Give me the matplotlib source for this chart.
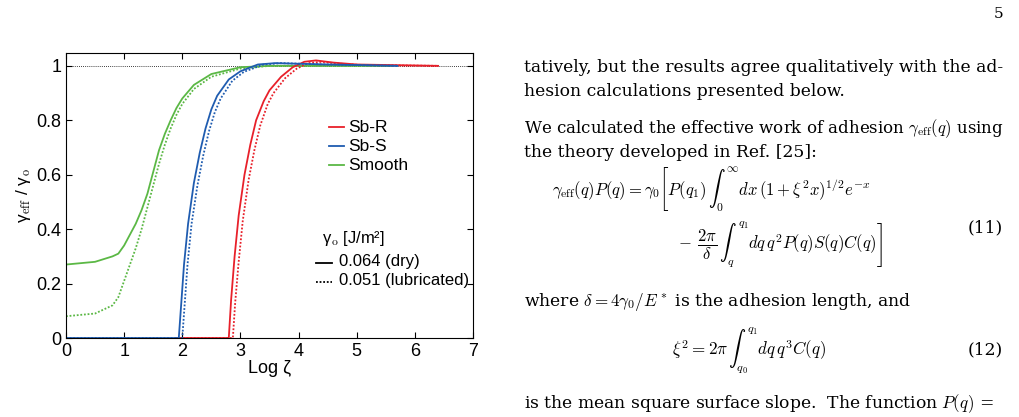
import matplotlib
matplotlib.use("Agg")
import matplotlib.pyplot as plt
import numpy as np

plt.rcParams['font.family'] = ['Liberation Sans', 'DejaVu Sans']
plt.rcParams['mathtext.fontset'] = 'cm'

smooth_x = [0, 0.5, 0.8, 0.9, 1.0, 1.1, 1.2, 1.3, 1.4, 1.5, 1.6, 1.7, 1.8, 1.9, 2.0, 2.2, 2.5, 3.0, 3.5, 5.6]
smooth_dry = [0.27, 0.28, 0.30, 0.31, 0.34, 0.38, 0.42, 0.47, 0.53, 0.61, 0.69, 0.75, 0.80, 0.845, 0.88, 0.93, 0.97, 0.995, 1.0, 1.0]
smooth_lub = [0.08, 0.09, 0.12, 0.15, 0.21, 0.27, 0.33, 0.40, 0.48, 0.56, 0.64, 0.71, 0.77, 0.82, 0.86, 0.915, 0.96, 0.99, 1.0, 1.0]

sbs_x_dry = [0, 1.94, 1.98, 2.03, 2.1, 2.2, 2.3, 2.4, 2.5, 2.6, 2.8, 3.0, 3.3, 3.6, 4.5, 5.7]
sbs_dry = [0, 0, 0.12, 0.27, 0.42, 0.57, 0.68, 0.77, 0.84, 0.89, 0.95, 0.98, 1.005, 1.01, 1.005, 1.0]
sbs_x_lub = [0, 2.0, 2.04, 2.09, 2.16, 2.26, 2.36, 2.46, 2.56, 2.66, 2.86, 3.06, 3.4, 3.7, 4.5, 5.7]
sbs_lub = [0, 0, 0.12, 0.27, 0.42, 0.56, 0.67, 0.76, 0.83, 0.88, 0.945, 0.978, 1.005, 1.01, 1.005, 1.0]

sbr_x_dry = [1.9, 2.8, 2.84, 2.9, 2.97, 3.07, 3.17, 3.27, 3.4, 3.5, 3.7, 3.9, 4.1, 4.3, 4.6, 5.0, 6.4]
sbr_dry = [0, 0, 0.14, 0.30, 0.45, 0.60, 0.71, 0.80, 0.87, 0.91, 0.96, 0.995, 1.015, 1.02, 1.012, 1.005, 1.0]
sbr_x_lub = [1.95, 2.87, 2.91, 2.97, 3.04, 3.14, 3.24, 3.34, 3.47, 3.57, 3.77, 3.97, 4.17, 4.4, 4.7, 5.1, 6.4]
sbr_lub = [0, 0, 0.13, 0.28, 0.43, 0.58, 0.69, 0.78, 0.86, 0.90, 0.955, 0.99, 1.01, 1.015, 1.008, 1.003, 1.0]

RED, BLUE, GREEN = '#e8202a', '#1f5cb0', '#5bb845'

fig = plt.figure(figsize=(10.2, 4.17), dpi=100)
ax = fig.add_axes([0.0647, 0.1894, 0.399, 0.684])
ax.axhline(1.0, color='black', lw=0.6, ls=(0, (1, 1.5)))
ax.plot(smooth_x, smooth_dry, color=GREEN, lw=1.3)
ax.plot(smooth_x, smooth_lub, color=GREEN, lw=1.3, ls=(0, (1, 1)))
ax.plot(sbr_x_dry, sbr_dry, color=RED, lw=1.3)
ax.plot(sbr_x_lub, sbr_lub, color=RED, lw=1.3, ls=(0, (1, 1)))
ax.plot(sbs_x_dry, sbs_dry, color=BLUE, lw=1.3)
ax.plot(sbs_x_lub, sbs_lub, color=BLUE, lw=1.3, ls=(0, (1, 1)))
ax.set_xlim(0, 7)
ax.set_ylim(0, 1.048)
ax.set_xticks(range(8))
ax.set_yticks([0, 0.2, 0.4, 0.6, 0.8, 1])
ax.set_yticklabels(['0', '0.2', '0.4', '0.6', '0.8', '1'])
ax.tick_params(direction='in', top=True, right=True, labelsize=13, length=4)
ax.set_xlabel('Log ζ', fontsize=13, labelpad=0)
ax.set_ylabel('γ$_{\\rm eff}$ / γ$_{\\rm o}$', fontsize=12.5, labelpad=2)

# legend
for yy, c, lab in [(0.775, RED, 'Sb-R'), (0.705, BLUE, 'Sb-S'), (0.635, GREEN, 'Smooth')]:
    ax.plot([4.52, 4.78], [yy, yy], color=c, lw=1.3)
    ax.text(4.86, yy, lab, fontsize=12.5, va='center')
ax.text(4.4, 0.365, 'γ$_{\\rm o}$ [J/m²]', fontsize=12, va='center')
ax.plot([4.3, 4.58], [0.275, 0.275], color='black', lw=1.3)
ax.text(4.7, 0.28, '0.064 (dry)', fontsize=12, va='center')
ax.plot([4.3, 4.58], [0.205, 0.205], color='black', lw=1.3, ls=(0, (1, 1)))
ax.text(4.7, 0.21, '0.051 (lubricated)', fontsize=12, va='center')

# page text
tf = dict(fontsize=12.3, family='DejaVu Serif', va='baseline')
fig.text(1003/1020, 1 - 18/417, '5', fontsize=11, family='DejaVu Serif', ha='right')
def T(x, y, s, **kw):
    d = dict(tf); d.update(kw)
    fig.text(x/1020, 1 - y/417, s, **d)
T(524, 72, 'tatively, but the results agree qualitatively with the ad-')
T(524, 96, 'hesion calculations presented below.')
T(524, 133, r'We calculated the effective work of adhesion $\gamma_{\rm eff}(q)$ using', fontsize=12)
T(524, 157, 'the theory developed in Ref. [25]:')
T(552, 196, r'$\gamma_{\rm eff}(q)P(q) = \gamma_0\left[P(q_1)\,\int_0^\infty dx\,(1+\xi^2x)^{1/2}e^{-x}\right.$', fontsize=12)
T(676, 249, r'$\left. -\,\dfrac{2\pi}{\delta}\,\int_q^{q_1} dq\,q^2P(q)S(q)C(q)\right]$', fontsize=12)
T(1003, 232, '(11)', ha='right')
T(524, 306, r'where $\delta = 4\gamma_0/E^*$ is the adhesion length, and')
T(672, 354, r'$\xi^2 = 2\pi\,\int_{q_0}^{q_1} dq\,q^3C(q)$')
T(1003, 354, '(12)', ha='right')
T(524, 408, r'is the mean square surface slope.  The function $P(q)$ =')

fig.savefig('out.png', dpi=100)
